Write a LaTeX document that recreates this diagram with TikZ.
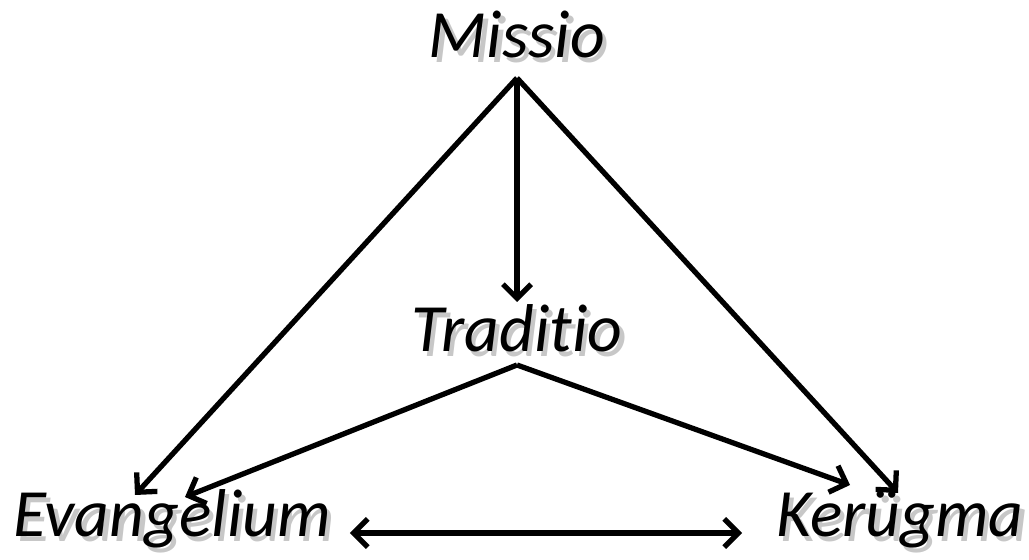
\documentclass[tikz,border=0pt]{standalone}
\usepackage{fontspec}
\setmainfont{Carlito}[Ligatures=CommonOff]
\usetikzlibrary{arrows.meta}
\newcommand{\shadowed}[1]{\makebox[0pt][l]{\hspace{2.5pt}\raisebox{-2.5pt}{\color{black!22}#1}}#1}
\begin{document}
\begin{tikzpicture}[
    x=0.02cm, y=0.02cm,
    word/.style={anchor=base, inner sep=0pt, font=\fontsize{38.5}{41}\selectfont\itshape},
    link/.style={-{Straight Barb[length=8pt,width=16pt]}, line width=3pt},
    both/.style={{Straight Barb[length=8pt,width=16pt]}-{Straight Barb[length=8pt,width=16pt]}, line width=3pt}
  ]
    \useasboundingbox (0,0) rectangle (1029,560);
    \node[word] (missio) at (517,502) {\shadowed{Missio}};
    \node[word] (traditio) at (517,208) {\shadowed{Traditio}};
    \node[word] (evangelium) at (172,23) {\shadowed{Evangelium}};
    \node[word] (kerugma) at (900,23) {\shadowed{Kerügma}};
    % from Missio
    \draw[link] ([yshift=-0.4cm]missio.base) -- ([xshift=-0.74cm,yshift=0.84cm]evangelium.base);
    \draw[link] ([yshift=-0.4cm]missio.base) -- ([yshift=1.0cm]traditio.base);
    \draw[link] ([yshift=-0.4cm]missio.base) -- ([xshift=-0.04cm,yshift=0.88cm]kerugma.base);
    % from Traditio
    \draw[link] ([yshift=-0.26cm]traditio.base) -- ([xshift=0.26cm,yshift=0.8cm]evangelium.base);
    \draw[link] ([yshift=-0.26cm]traditio.base) -- ([xshift=-1.0cm,yshift=1.04cm]kerugma.base);
    % bottom
    \draw[both] ([xshift=3.56cm,yshift=0.08cm]evangelium.base) -- ([xshift=-3.16cm,yshift=0.08cm]kerugma.base);
  \end{tikzpicture}
\end{document}
